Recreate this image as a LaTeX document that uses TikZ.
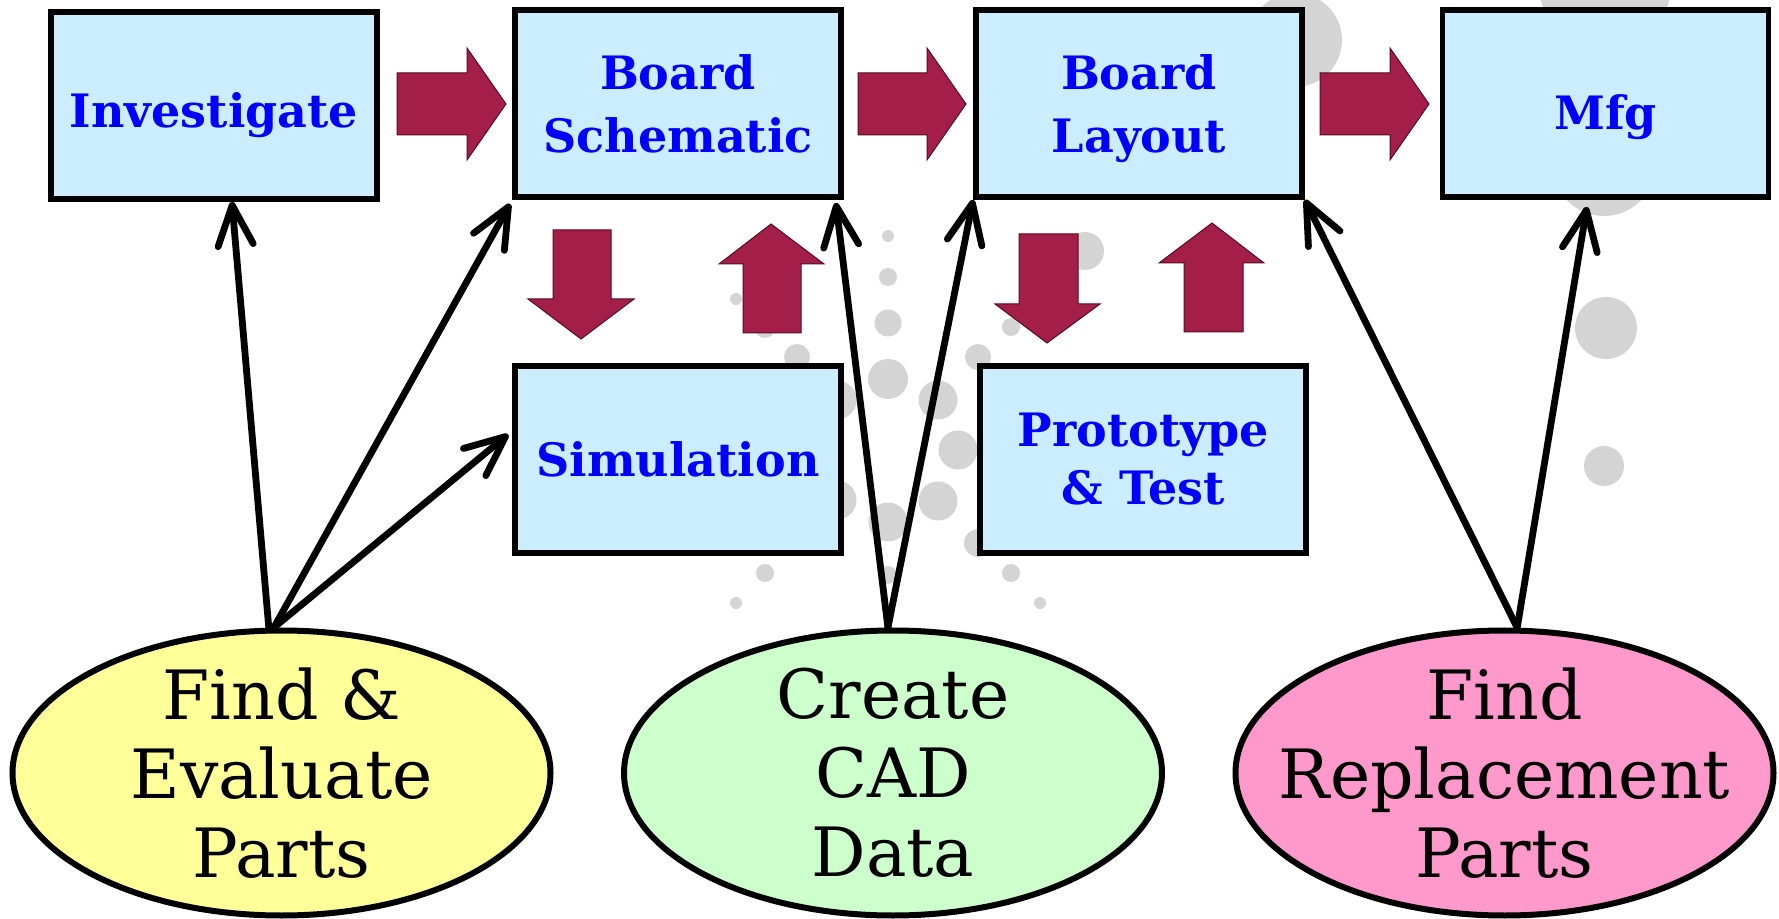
\documentclass[tikz,border=0pt]{standalone}
\usepackage{fontspec}
\setmainfont{DejaVu Serif}
\usetikzlibrary{shapes.geometric,arrows.meta,calc}
\definecolor{boxfill}{HTML}{CCECFF}
\definecolor{blockred}{HTML}{A31F4A}
\definecolor{blockdark}{HTML}{5A0A25}
\definecolor{dotgray}{HTML}{D4D4D4}
\definecolor{ylw}{HTML}{FFFF99}
\definecolor{grn}{HTML}{CCFFCC}
\definecolor{pnk}{HTML}{FF99CC}
\definecolor{txtblue}{HTML}{0000FF}
\begin{document}
\begin{tikzpicture}[x=0.5pt,y=-0.5pt,
 box/.style={draw=black, line width=2.9pt, fill=boxfill, minimum width=163pt, minimum height=93.5pt, inner sep=0pt, text=txtblue, font=\bfseries\fontsize{23}{31.5}\selectfont, align=center},
 ell/.style={ellipse, draw=black, line width=3pt, minimum width=269pt, minimum height=142.5pt, inner sep=0pt},
 elltext/.style={font=\fontsize{34}{39.5}\selectfont, align=center, text=black},
 blockarrow/.style={fill=blockred, draw=blockdark, line width=0.5pt, line join=miter},
 conn/.style={line width=3.4pt, line cap=round, -{Straight Barb[round,length=20pt,width=17.6pt]}},
 dot/.style={fill=dotgray}
]
\useasboundingbox (0,0) rectangle (1779,919);
% background dots
\fill[dot] (888,236) circle[radius=3pt];
\fill[dot] (888,277) circle[radius=4.5pt];
\fill[dot] (888,323) circle[radius=6.75pt];
\fill[dot] (888,379) circle[radius=10pt];
\fill[dot] (938,400) circle[radius=9.75pt];
\fill[dot] (958,450) circle[radius=9.75pt];
\fill[dot] (938,501) circle[radius=9.75pt];
\fill[dot] (888,522) circle[radius=9.75pt];
\fill[dot] (837,500) circle[radius=9.75pt];
\fill[dot] (837,400) circle[radius=9.75pt];
\fill[dot] (797,357) circle[radius=6.5pt];
\fill[dot] (978,357) circle[radius=6.5pt];
\fill[dot] (736,299) circle[radius=3pt];
\fill[dot] (765,328) circle[radius=5pt];
\fill[dot] (1011,327) circle[radius=4.5pt];
\fill[dot] (1085,251) circle[radius=9.5pt];
\fill[dot] (765,573) circle[radius=4.5pt];
\fill[dot] (736,603) circle[radius=3pt];
\fill[dot] (888,575) circle[radius=4.5pt];
\fill[dot] (1011,573) circle[radius=4.5pt];
\fill[dot] (1040,603) circle[radius=3pt];
\fill[dot] (978,543) circle[radius=7pt];
\fill[dot] (1295,40) circle[radius=23.5pt];
\fill[dot] (1605,-15) circle[radius=33pt];
\fill[dot] (1604,165) circle[radius=25.5pt];
\fill[dot] (1606,328) circle[radius=15.5pt];
\fill[dot] (1604,466) circle[radius=10pt];
% boxes
\node[box, text height=22.5pt, text depth=0pt] (inv) at (214,105.5) {Investigate};
\node[box] (bs) at (678,103.5) {Board\\Schematic};
\node[box] (bl) at (1139,103.5) {Board\\\smash{Layout}};
\node[box, text height=26pt, text depth=0pt] (mfg) at (1605.5,103.5) {Mfg};
\node[box] (sim) at (678,459.5) {Simulation};
\node[box, font=\bfseries\fontsize{23}{29}\selectfont] (pt) at (1143,459.5) {Prototype\\\& Test};
% block arrows
\path[blockarrow] (397,73) -- (467,73) -- (467,48) -- (506,104) -- (467,160) -- (467,135) -- (397,135) -- cycle;
\path[blockarrow] (858,73) -- (927,73) -- (927,48) -- (966,104) -- (927,160) -- (927,135) -- (858,135) -- cycle;
\path[blockarrow] (1320,73) -- (1390,73) -- (1390,48) -- (1429,104) -- (1390,160) -- (1390,135) -- (1320,135) -- cycle;
\path[blockarrow] (553,230) -- (611,230) -- (611,299) -- (634,299) -- (581,339) -- (528,299) -- (553,299) -- cycle;
\path[blockarrow] (743,333) -- (801,333) -- (801,264) -- (824,264) -- (771,224) -- (719,264) -- (743,264) -- cycle;
\path[blockarrow] (1019,234) -- (1078,234) -- (1078,304) -- (1100,304) -- (1047,343) -- (995,304) -- (1019,304) -- cycle;
\path[blockarrow] (1184,332) -- (1243,332) -- (1243,263) -- (1264,263) -- (1212,223) -- (1159,263) -- (1184,263) -- cycle;
% ellipses
\node[ell, fill=ylw, label={[elltext]center:{Find \&\\Evaluate\\Parts}}] (fe) at (281.5,773) {};
\node[ell, fill=grn, label={[elltext]center:{Create\\CAD\\Data}}] (cad) at (893,773) {};
\node[ell, fill=pnk, label={[elltext]center:{Find\\Replacement\\Parts}}] (frp) at (1504.5,773) {};
% connectors
\draw[conn] (fe.95.5) -- ($(inv.south west)!0.554!(inv.south east)$);
\draw[conn] (fe.93.5) -- ($(bs.south west)+(-2,4)$);
\draw[conn] (fe.93.5) -- ($(sim.north west)!0.37!(sim.south west)+(-4,0)$);
\draw[conn] (cad.92.4) -- ($(bs.south east)+(-8,3)$);
\draw[conn] (cad.92.4) -- (bl.south west);
\draw[conn] (frp.85) -- (bl.south east);
\draw[conn] (frp.85) -- ($(mfg.south west)!0.444!(mfg.south east)+(0,7)$);
\end{tikzpicture}
\end{document}
